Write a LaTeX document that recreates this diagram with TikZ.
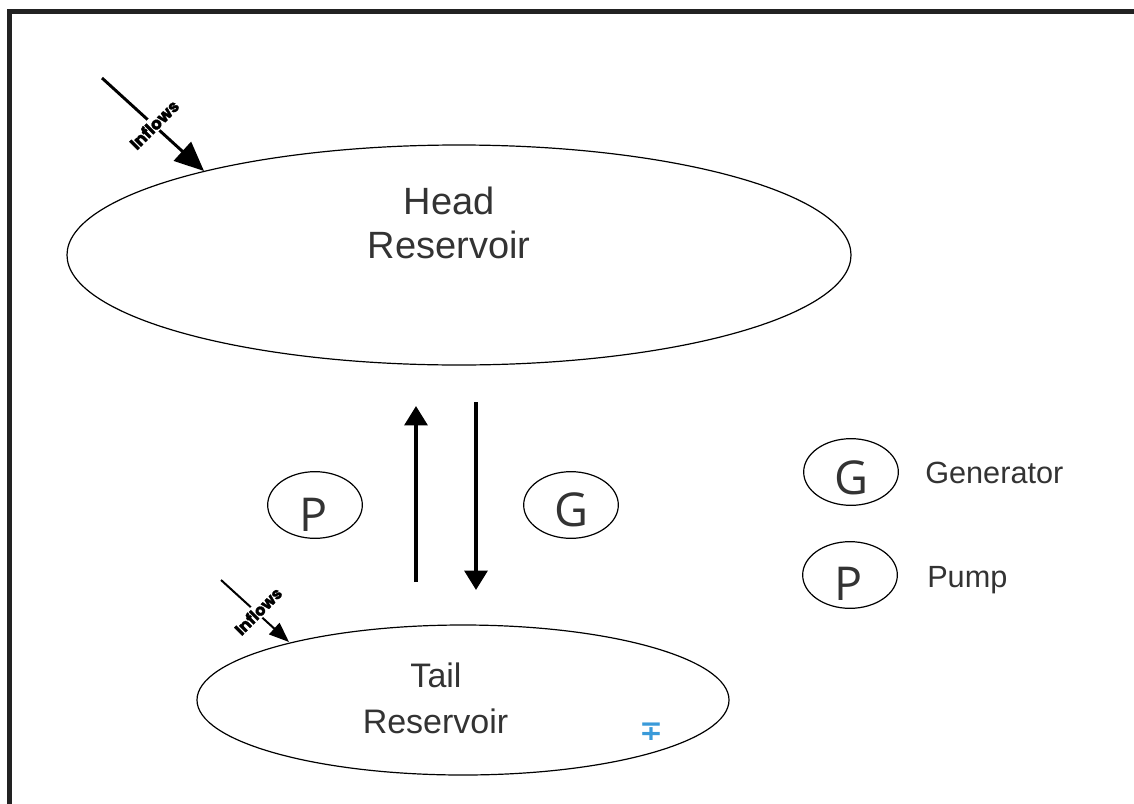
\documentclass[tikz,border=0pt]{standalone}
\usepackage{fontspec}
\setmainfont{Liberation Sans}
\newfontfamily\thinfont{Open Sans}
\newfontfamily\heavyfont{Poppins}[FakeBold=2]
\newfontfamily\symfont{DejaVu Sans}
\usetikzlibrary{shapes.geometric,arrows.meta}
\definecolor{txt}{HTML}{333333}
\definecolor{symblue}{HTML}{3A9AD9}
\definecolor{frame}{HTML}{222222}
\begin{document}
\begin{tikzpicture}[x=0.75pt,y=-0.75pt,
  resv/.style={ellipse,draw=black,line width=0.9pt,inner sep=0pt},
  unit/.style={ellipse,draw=black,line width=0.9pt,inner sep=0pt,minimum width=71pt,minimum height=50pt},
  restext/.style={text=txt,anchor=base,inner sep=0pt},
  letter/.style={text=txt,anchor=base,inner sep=0pt,font=\thinfont\fontsize{35}{40}\selectfont},
  legtext/.style={text=txt,anchor=base west,inner sep=0pt,font=\fontsize{23}{27}\selectfont},
  flowtext/.style={fill=white,inner sep=1pt,rotate=45,text=black,font=\heavyfont\bfseries\fontsize{12.5}{15}\selectfont},
  vert/.style={line width=3pt,-{Triangle[length=14.5pt,width=17pt]}},
  inflowA/.style={line width=2.2pt,-{Triangle[length=22pt,width=19pt]}},
  inflowB/.style={line width=1.5pt,-{Triangle[length=15pt,width=11.5pt]}}
]
\useasboundingbox (0,0) rectangle (1134,803);
\begin{scope}
\clip (0,0) rectangle (1134,803);
\draw[frame,line width=3.75pt] (9.5,820) -- (9.5,11) -- (1150,11);
\end{scope}

% reservoirs
\node[resv,minimum width=588pt,minimum height=165pt] (head) at (459,255) {};
\node[restext,font=\fontsize{28.5}{33}\selectfont] (headA) at (449,214) {Head};
\node[restext,font=\fontsize{28.5}{33}\selectfont] (headB) at (449,258) {Reservoir};

\node[resv,minimum width=399pt,minimum height=112.5pt] (tail) at (463,700) {};
\node[restext,font=\fontsize{25.5}{30}\selectfont] (tailA) at (436,687) {Tail};
\node[restext,font=\fontsize{25.5}{30}\selectfont] (tailB) at (435.5,733) {Reservoir};

% pump / generator units
\node[unit] (pu) at (315,505) {};
\node[letter] (puL) at (314,531) {P};
\node[unit] (ge) at (571,505) {};
\node[letter] (geL) at (571,526) {G};

% vertical flows
\coordinate (upS) at (416,582);
\coordinate (upE) at (416,406);
\coordinate (dnS) at (476,402);
\coordinate (dnE) at (476,590);
\draw[vert] (upS) -- (upE);
\draw[vert] (dnS) -- (dnE);

% inflows
\coordinate (inAS) at (102,78);
\coordinate (inAE) at (204,171);
\draw[inflowA] (inAS) -- (inAE);
\node[flowtext] (inAT) at (154,124.5) {Inflows};

\coordinate (inBS) at (221,580);
\coordinate (inBE) at (289,642);
\draw[inflowB] (inBS) -- (inBE);
\node[flowtext,font=\heavyfont\bfseries\fontsize{12}{14}\selectfont] (inBT) at (258,611) {Inflows};

% legend
\node[unit] (lgG) at (851,472) {};
\node[letter] (lgGL) at (851,494) {G};
\node[legtext] (lgGT) at (925,483) {Generator};
\node[unit] (lgP) at (850,575) {};
\node[letter] (lgPL) at (849,600) {P};
\node[legtext] (lgPT) at (927,587) {Pump};

% small blue mark
\node[text=symblue,inner sep=0pt,font=\symfont\bfseries\fontsize{21}{24}\selectfont] (mark) at (651,732) {∓};
\end{tikzpicture}
\end{document}
